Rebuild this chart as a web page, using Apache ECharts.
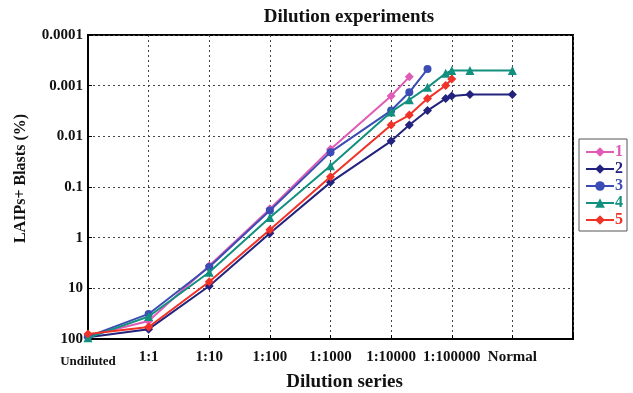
<!DOCTYPE html>
<html>
<head>
<meta charset="utf-8">
<script src="https://cdn.jsdelivr.net/npm/echarts@6/dist/echarts.min.js"></script>
<style>
  html, body { margin: 0; padding: 0; background: #fff; }
  #main { width: 633px; height: 393px; }
</style>
</head>
<body>
<div id="main"></div>
<script>
// x positions: log10 of dilution factor (0 = undiluted, 7 = normal)
var xLabels = ['Undiluted', '1:1', '1:10', '1:100', '1:1000', '1:10000', '1:100000', 'Normal']
var xPos = [0, 1, 2, 3, 4, 5, 5.3, 5.6, 5.9, 6, 6.3, 7]
var yTicks = [0.0001, 0.001, 0.01, 0.1, 1, 10, 100]

var names = ['1', '2', '3', '4', '5']
var s1 = [87, 44, 3.6, 0.27, 0.018, 0.0016, 0.00067]
var s2 = [92, 64, 9.0, 0.82, 0.081, 0.0124, 0.006, 0.0031, 0.0018, 0.0016, 0.0015, 0.0015]
var s3 = [90, 32, 3.8, 0.29, 0.0205, 0.0031, 0.00135, 0.00047]
var s4 = [95, 36, 4.8, 0.40, 0.038, 0.0033, 0.0019, 0.00108, 0.00057, 0.0005, 0.0005, 0.0005]
var s5 = [80, 58, 7.4, 0.70, 0.063, 0.006, 0.0038, 0.0018, 0.00099, 0.00074]

var colors = ['#e05bb5', '#23237e', '#3b4db4', '#11907f', '#f03228']
var symbols = ['diamond', 'diamond', 'circle', 'triangle', 'diamond']
var allData = [s1, s2, s3, s4, s5]

var font = 'Liberation Serif'

function pairs(vals) {
  return vals.map(function (v, i) { return [xPos[i], v] })
}

var series = allData.map(function (vals, k) {
  return {
    name: names[k],
    type: 'line',
    data: pairs(vals),
    symbol: symbols[k],
    symbolSize: symbols[k] == 'circle' ? 8 : 9,
    lineStyle: { width: 2, color: colors[k] },
    itemStyle: { color: colors[k] },
    z: 3 + k
  }
})

var chart = echarts.init(document.getElementById('main'))
chart.setOption({
  animation: false,
  title: {
    text: 'Dilution experiments',
    left: 344,
    top: 3,
    textAlign: 'center',
    textStyle: { fontFamily: font, fontWeight: 'bold', fontSize: 19, color: '#111' }
  },
  legend: {
    orient: 'vertical',
    left: 579,
    top: 139,
    padding: [5, 4, 3, 6],
    itemGap: 1,
    itemWidth: 28,
    itemHeight: 12,
    borderColor: '#555',
    borderWidth: 1,
    data: names.map(function (n, k) {
      return { name: n, textStyle: { color: colors[k] } }
    }),
    textStyle: { fontFamily: font, fontWeight: 'bold', fontSize: 16, lineHeight: 15, padding: [0, 0, 0, -4] }
  },
  grid: {
    left: 88, right: 60, top: 35, bottom: 54,
    outerBoundsMode: 'none',
    show: true, borderColor: '#000', borderWidth: 2, backgroundColor: 'transparent'
  },
  xAxis: {
    type: 'value',
    min: 0, max: 8, interval: 1,
    name: 'Dilution series',
    nameLocation: 'middle',
    nameGap: 31,
    nameTextStyle: { fontFamily: font, fontWeight: 'bold', fontSize: 19, color: '#111', padding: [0, 0, 0, 28] },
    axisLine: { lineStyle: { color: '#000', width: 2 } },
    axisTick: { inside: true, length: 4, lineStyle: { color: '#000' } },
    axisLabel: {
      margin: 11,
      fontFamily: font, fontWeight: 'bold', fontSize: 15, color: '#111',
      formatter: function (v) {
        if (v === 0) return '{u|' + xLabels[0] + '}'
        return xLabels[v] || ''
      },
      rich: { u: { fontFamily: font, fontWeight: 'bold', fontSize: 13, color: '#111', padding: [5, 0, 0, 0] } }
    },
    splitLine: { lineStyle: { color: '#444', type: [2, 3], width: 1 } }
  },
  yAxis: {
    type: 'log',
    logBase: 10,
    inverse: true,
    min: 0.0001, max: 100,
    name: 'LAIPs+ Blasts (%)',
    nameLocation: 'middle',
    nameGap: 59,
    nameRotate: 90,
    nameTextStyle: { fontFamily: font, fontWeight: 'bold', fontSize: 16, color: '#111', padding: [0, 0, 0, 17] },
    axisLine: { lineStyle: { color: '#000', width: 2 } },
    axisTick: { inside: true, length: 4, lineStyle: { color: '#000' } },
    axisLabel: {
      margin: 5,
      fontFamily: font, fontWeight: 'bold', fontSize: 15, color: '#111',
      formatter: function (v) {
        for (var i = 0; i < yTicks.length; i++) {
          if (Math.abs(Math.log10(v) - Math.log10(yTicks[i])) < 0.01) return String(yTicks[i])
        }
        return ''
      }
    },
    splitLine: { lineStyle: { color: '#444', type: [2, 3], width: 1 } }
  },
  series: series
})
</script>
</body>
</html>
